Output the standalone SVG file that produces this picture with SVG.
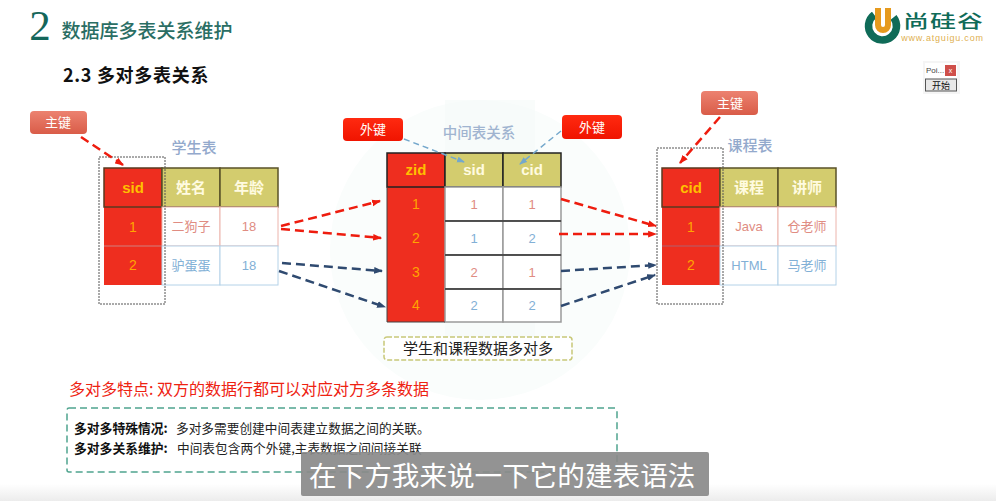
<svg xmlns="http://www.w3.org/2000/svg" width="996" height="501" viewBox="0 0 996 501">
<style>
text{font-family:"Liberation Sans","Noto Sans CJK SC",sans-serif;text-anchor:middle}
.cjk{font-family:"Noto Sans CJK SC","Liberation Sans",sans-serif}
.st{text-anchor:start}
.red{fill:#ee2e1f}.hd{fill:#d3cc6e;stroke:#5a5228;stroke-width:1.5}
.hr{fill:#ee2e1f;stroke:#5a3a20;stroke-width:1.5}
.cr{fill:#fff;stroke:#ecb4ac;stroke-width:1}.cb{fill:#fff;stroke:#b4d2e8;stroke-width:1}
.th{font-size:15px;font-weight:700;fill:#fffbe0}.pk{font-size:15px;font-weight:700;fill:#ffc000}
.n{font-size:14px;fill:#ffa500}.tr{font-size:13px;fill:#e08c82}.tb{font-size:13px;fill:#82b0d6}
.cap{font-size:15px;font-weight:500;fill:#93a9cc}
.dot{fill:none;stroke:#555;stroke-width:1;stroke-dasharray:2 1}
.lr{stroke:#ee1c0e;stroke-width:2.5;stroke-dasharray:9 5;fill:none;marker-end:url(#ar)}
.ln{stroke:#2f4a70;stroke-width:2.5;stroke-dasharray:9 5;fill:none;marker-end:url(#an)}
.lb{stroke:#74a8cc;stroke-width:1.5;stroke-dasharray:6 4;fill:none;marker-end:url(#ab)}
.mid{fill:#fff;stroke:#9a9a9a;stroke-width:1.5}
.kw{font-size:13px;font-weight:400;fill:#fff}
</style>
<defs>
<marker id="ar" markerWidth="9" markerHeight="8" refX="7" refY="3" orient="auto" markerUnits="userSpaceOnUse" viewBox="0 0 8 6"><path d="M0 0L8 3L0 6z" fill="#ee1c0e"/></marker>
<marker id="an" markerWidth="9" markerHeight="8" refX="7" refY="3" orient="auto" markerUnits="userSpaceOnUse" viewBox="0 0 8 6"><path d="M0 0L8 3L0 6z" fill="#2f4a70"/></marker>
<marker id="ab" markerWidth="8" markerHeight="7" refX="7" refY="3" orient="auto" markerUnits="userSpaceOnUse" viewBox="0 0 8 6"><path d="M0 0L8 3L0 6z" fill="#74a8cc"/></marker>
<linearGradient id="pk" x1="0" y1="0" x2="0" y2="1"><stop offset="0" stop-color="#ec8270"/><stop offset="1" stop-color="#d95c48"/></linearGradient>
<linearGradient id="fk" x1="0" y1="0" x2="0" y2="1"><stop offset="0" stop-color="#ff2a10"/><stop offset="1" stop-color="#f01400"/></linearGradient>
<linearGradient id="bot" x1="0" y1="0" x2="0" y2="1"><stop offset="0" stop-color="#fff"/><stop offset="1" stop-color="#ececec"/></linearGradient>
</defs>
<rect width="996" height="501" fill="#fff"/>
<rect y="484" width="996" height="17" fill="url(#bot)"/>
<circle cx="480" cy="250" r="150" fill="#fafdfc"/>
<rect x="445" y="100" width="90" height="260" fill="#f5faf8" opacity=".6"/>
<g id="title">
<text x="40" y="40" style="font-family:'Liberation Serif',serif;font-size:43px;fill:#14665a">2</text>
<text class="cjk" x="147" y="38" style="font-size:19px;font-weight:500;fill:#2a6e64">数据库多表关系维护</text>
<text class="cjk" x="136" y="82" style="font-size:18px;font-weight:700;fill:#111;letter-spacing:.7px">2.3 多对多表关系</text>
</g>
<g id="logo">
<circle cx="882.500" cy="26" r="14" fill="none" stroke="#0f6b58" stroke-width="7.500" stroke-dasharray="66 22" transform="rotate(-38 882.500 26)"/>
<path d="M878 8V25A5 5 0 0 0 888 25V8" fill="none" stroke="#e69a1e" stroke-width="6"/>
<text class="cjk" transform="translate(943.500 28) scale(1 .68)" x="0" y="0" style="font-size:26px;font-weight:500;fill:#0f6b58;letter-spacing:1px">尚硅谷</text>
<text x="942.500" y="41" style="font-size:9px;fill:#e0b050;letter-spacing:.8px">www.atguigu.com</text>
</g>
<g id="popup">
<rect x="923" y="61" width="37" height="33" fill="#eee" opacity=".6"/>
<rect x="925" y="63" width="32" height="28" fill="#fff"/>
<text x="935" y="73" style="font-size:8px;fill:#444">Poi...</text>
<rect x="945" y="65" width="11" height="11" fill="#cf4f4a"/>
<text x="950.500" y="73" style="font-size:7px;fill:#fff">x</text>
<rect x="925.500" y="79" width="31" height="12" fill="#e8e8e8" stroke="#555"/>
<text class="cjk" x="941" y="89" style="font-size:9px;fill:#111">开始</text>
</g>
<g id="student-table">
<text class="cjk cap" x="194" y="153">学生表</text>
<rect class="red" x="104" y="207" width="58" height="78"/>
<rect class="hr" x="104" y="168" width="58" height="39"/>
<rect class="hd" x="162" y="168" width="58" height="39"/><rect class="hd" x="220" y="168" width="58" height="39"/>
<rect class="cr" x="162" y="207" width="58" height="39"/><rect class="cr" x="220" y="207" width="58" height="39"/>
<rect class="cb" x="162" y="246" width="58" height="39"/><rect class="cb" x="220" y="246" width="58" height="39"/>
<path d="M104 246H162" stroke="#d08080"/>
<text class="pk" x="133" y="193">sid</text><text class="cjk th" x="191" y="193">姓名</text><text class="cjk th" x="249" y="193">年龄</text>
<text class="n" x="133" y="232">1</text><text class="cjk tr" x="191" y="231">二狗子</text><text class="tr" x="249" y="231">18</text>
<text class="n" x="133" y="270">2</text><text class="cjk tb" x="191" y="270">驴蛋蛋</text><text class="tb" x="249" y="270">18</text>
<rect class="dot" x="99" y="157" width="66" height="147"/>
</g>
<g id="middle-table">
<text class="cjk cap" x="479" y="138" style="fill:#a0b4d0;font-size:14.500px">中间表关系</text>
<rect class="red" x="387" y="187" width="58" height="135"/>
<rect class="hr" x="387" y="153" width="58" height="34" style="stroke:#222"/>
<rect class="hd" x="445" y="153" width="58" height="34" style="stroke:#222"/><rect class="hd" x="503" y="153" width="58" height="34" style="stroke:#222"/>
<rect class="mid" x="445" y="187" width="58" height="34"/><rect class="mid" x="503" y="187" width="58" height="34"/>
<rect class="mid" x="445" y="221" width="58" height="34"/><rect class="mid" x="503" y="221" width="58" height="34"/>
<rect class="mid" x="445" y="255" width="58" height="34"/><rect class="mid" x="503" y="255" width="58" height="34"/>
<rect class="mid" x="445" y="289" width="58" height="33"/><rect class="mid" x="503" y="289" width="58" height="33"/>
<path d="M445 221H561M445 255H561M445 289H561" fill="none" stroke="#333" stroke-width="1.500"/>
<path d="M387 187V322H445" fill="none" stroke="#444" stroke-width="1"/>
<text class="pk" x="416" y="175">zid</text><text class="th" x="474" y="175">sid</text><text class="th" x="532" y="175">cid</text>
<text class="n" x="416" y="209">1</text><text class="tr" x="474" y="209">1</text><text class="tr" x="532" y="209">1</text>
<text class="n" x="416" y="243">2</text><text class="tb" x="474" y="243">1</text><text class="tb" x="532" y="243">2</text>
<text class="n" x="416" y="277">3</text><text class="tr" x="474" y="277">2</text><text class="tr" x="532" y="277">1</text>
<text class="n" x="416" y="310">4</text><text class="tb" x="474" y="310">2</text><text class="tb" x="532" y="310">2</text>
</g>
<g id="course-table">
<text class="cjk cap" x="750" y="151">课程表</text>
<rect class="red" x="662" y="207" width="58" height="78"/>
<rect class="hr" x="662" y="168" width="58" height="39"/>
<rect class="hd" x="720" y="168" width="58" height="39"/><rect class="hd" x="778" y="168" width="58" height="39"/>
<rect class="cr" x="720" y="207" width="58" height="39"/><rect class="cr" x="778" y="207" width="58" height="39"/>
<rect class="cb" x="720" y="246" width="58" height="39"/><rect class="cb" x="778" y="246" width="58" height="39"/>
<path d="M662 246H720" stroke="#b06070"/>
<text class="pk" x="691" y="193">cid</text><text class="cjk th" x="749" y="193">课程</text><text class="cjk th" x="807" y="193">讲师</text>
<text class="n" x="691" y="232">1</text><text class="tr" x="749" y="231">Java</text><text class="cjk tr" x="807" y="231">仓老师</text>
<text class="n" x="691" y="270">2</text><text class="tb" x="749" y="270">HTML</text><text class="cjk tb" x="807" y="270">马老师</text>
<rect class="dot" x="657" y="148" width="66" height="156"/>
</g>
<g id="pk-left"><rect x="30" y="111" width="57" height="23" rx="4" fill="url(#pk)"/><text class="cjk kw" x="58" y="127">主键</text></g>
<g id="pk-right"><rect x="701" y="91" width="57" height="24" rx="4" fill="url(#pk)"/><text class="cjk kw" x="730" y="108">主键</text></g>
<g id="fk-left"><rect x="343" y="118" width="60" height="23" rx="4" fill="url(#fk)"/><text class="cjk kw" x="373" y="134">外键</text></g>
<g id="fk-right"><rect x="562" y="115" width="60" height="24" rx="4" fill="url(#fk)"/><text class="cjk kw" x="592" y="132">外键</text></g>
<g id="connectors">
<path class="lr" d="M81 137L123 165"/>
<path class="lr" d="M720 117L680 163"/>
<path class="lb" d="M404 139L464 162"/>
<path class="lb" d="M561 131L520 164"/>
<path class="lr" d="M281 226L380 201"/>
<path class="lr" d="M281 229L381 238"/>
<path class="ln" d="M282 263L382 271"/>
<path class="ln" d="M279 271L385 307"/>
<path class="lr" d="M561 199L656 226"/>
<path class="lr" d="M559 234L656 234"/>
<path class="ln" d="M561 271L656 265"/>
<path class="ln" d="M561 306L655 275"/>
</g>
<g id="note-many"><rect x="384" y="337" width="188" height="23" rx="3" fill="#fff" stroke="#c8c878" stroke-width="1.500" stroke-dasharray="5 2"/><text class="cjk" x="478" y="354" style="font-size:15px;fill:#222">学生和课程数据多对多</text></g>
<g id="feature"><text class="cjk" x="249" y="395" style="font-size:16px;fill:#ee2211;font-weight:400">多对多特点: 双方的数据行都可以对应对方多条数据</text></g>
<g id="summary">
<rect x="67" y="408" width="550" height="64" rx="2" fill="#fff" stroke="#4fa48e" stroke-width="1.500" stroke-dasharray="7 4"/>
<text class="cjk st" x="74" y="433" style="font-size:12.800px;font-weight:700;fill:#111">多对多特殊情况:</text>
<text class="cjk st" x="176" y="433" style="font-size:12.700px;fill:#222">多对多需要创建中间表建立数据之间的关联。</text>
<text class="cjk st" x="74" y="453" style="font-size:12.800px;font-weight:700;fill:#111">多对多关系维护:</text>
<text class="cjk st" x="177" y="453" style="font-size:12.700px;fill:#222">中间表包含两个外键,主表数据之间间接关联</text>
</g>
<g id="subtitle">
<rect x="301" y="452" width="408" height="44" rx="2" fill="#8a8a8a" opacity=".92"/>
<text class="cjk st" x="309" y="486" style="font-size:27.600px;fill:#fff">在下方我来说一下它的建表语法</text>
</g>
</svg>
